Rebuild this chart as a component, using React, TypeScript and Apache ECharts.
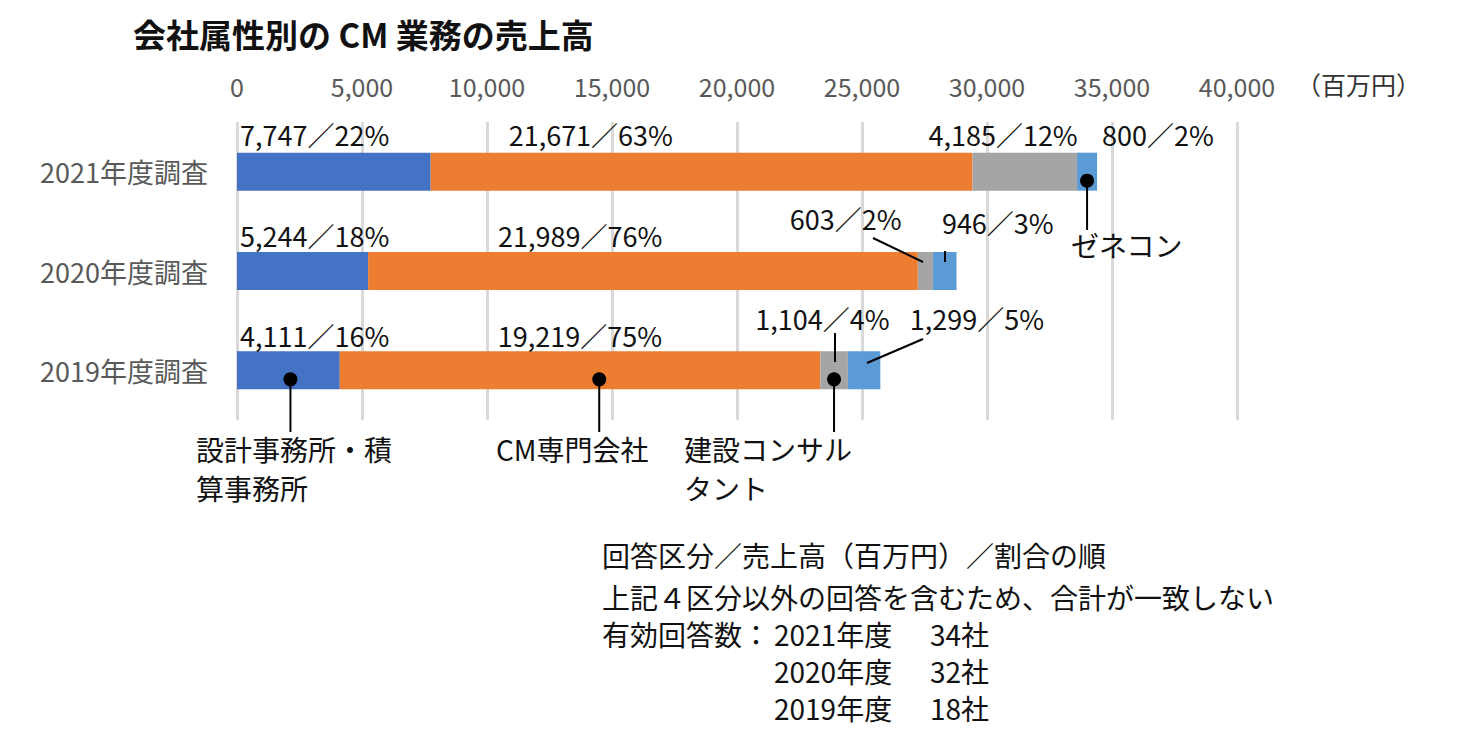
import React, { useEffect, useRef } from 'react';
import * as echarts from 'echarts';

// ---- data ----
const categories = ['2021年度調査', '2020年度調査', '2019年度調査'];
const seriesNames = ['設計事務所・積算事務所', 'CM専門会社', '建設コンサルタント', 'ゼネコン'];
const designOffice = [7747, 5244, 4111];
const cmFirm = [21671, 21989, 19219];
const consultant = [4185, 603, 1104];
const generalContractor = [800, 946, 1299];
const designShare = [22, 18, 16];
const cmShare = [63, 76, 75];
const consultantShare = [12, 2, 4];
const contractorShare = [2, 3, 5];
const axisMax = 40000;
const axisStep = 5000;
const unitLabel = '（百万円）';
const titleText = '会社属性別の CM 業務の売上高';
const noteLines = ['回答区分／売上高（百万円）／割合の順', '上記４区分以外の回答を含むため、合計が一致しない'];
const respondentYears = ['2021年度', '2020年度', '2019年度'];
const respondentCounts = ['34社', '32社', '18社'];

// ---- styles ----
const FONT = '"Noto Sans CJK JP", "Noto Sans", sans-serif';
const colors = ['#4472C4', '#ED7D31', '#A5A5A5', '#5B9BD5'];
// label offsets [dx, dy] relative to each bar segment's top-left corner
const labelOffsets = [
  [[3, -18], [3, -17], [3, -16]],
  [[78, -18], [130, -17], [158, -16]],
  [[-44, -18], [-128, -34], [-65, -33]],
  [[25, -18], [9, -30], [62, -33]],
];
// callout dot position within a segment (fraction of its length)
const calloutFractions = [0.52, 0.54, 0.5, 0.5];

const fmt = (v: number) => v.toLocaleString('en-US');

export default function App() {
  const ref = useRef<HTMLDivElement>(null);
  useEffect(() => {
    if (!ref.current) return;
    const chart = echarts.init(ref.current, null, { renderer: 'svg' });
    const values = [designOffice, cmFirm, consultant, generalContractor];
    const shares = [designShare, cmShare, consultantShare, contractorShare];
    const series = values.map((arr, si) => ({
      name: seriesNames[si],
      type: 'bar',
      stack: 'total',
      barWidth: 38,
      itemStyle: { color: colors[si] },
      data: arr.map((v, ci) => ({
        value: v,
        label: {
          show: true,
          position: labelOffsets[si][ci],
          align: 'left',
          verticalAlign: 'middle',
          formatter: `${fmt(v)}／${shares[si][ci]}%`,
          fontFamily: FONT,
          fontSize: 27,
          color: '#111',
        },
      })),
    }));
    chart.setOption({
      animation: false,
      title: {
        text: titleText,
        left: 128,
        top: 12,
        textStyle: { fontFamily: FONT, fontSize: 33, fontWeight: 'bold', color: '#111' },
      },
      grid: { left: 237, right: 232, top: 122, bottom: 318, containLabel: false },
      xAxis: {
        type: 'value',
        position: 'top',
        min: 0,
        max: axisMax,
        interval: axisStep,
        axisLine: { show: false },
        axisTick: { show: false },
        axisLabel: {
          formatter: (v: number) => fmt(v),
          fontFamily: FONT,
          fontSize: 25,
          color: '#595959',
          margin: 24,
        },
        splitLine: { show: true, lineStyle: { color: '#d9d9d9', width: 3 } },
      },
      yAxis: {
        type: 'category',
        inverse: true,
        data: categories,
        axisLine: { show: false },
        axisTick: { show: false },
        axisLabel: { fontFamily: FONT, fontSize: 27, color: '#595959', margin: 29 },
      },
      series,
    });

    const px = (v: number, ci: number) => chart.convertToPixel({ gridIndex: 0 }, [v, ci]) as number[];
    const anchor = (si: number, ci: number) => {
      let s = 0;
      for (let k = 0; k < si; k++) s += values[k][ci];
      return s + values[si][ci] * calloutFractions[si];
    };
    const dot = (si: number, ci: number, yEnd: number) => {
      const p = px(anchor(si, ci), ci);
      const cy = p[1] + 9;
      return [
        { type: 'line', z: 100, shape: { x1: p[0], y1: cy, x2: p[0], y2: yEnd }, style: { stroke: '#000', lineWidth: 2 } },
        { type: 'circle', z: 101, shape: { cx: p[0], cy, r: 7 }, style: { fill: '#000' } },
      ];
    };
    const t = (text: string, x: number, y: number, size = 28, color = '#111') => ({
      type: 'text',
      z: 100,
      x,
      y,
      style: { text, fontFamily: FONT, fontSize: size, fill: color, verticalAlign: 'middle', align: 'left' },
    });
    const ln = (x1: number, y1: number, x2: number, y2: number) => ({
      type: 'line',
      z: 100,
      shape: { x1, y1, x2, y2 },
      style: { stroke: '#000', lineWidth: 2 },
    });
    const graphics: any[] = [
      ...dot(0, 2, 432),
      ...dot(1, 2, 432),
      ...dot(2, 2, 432),
      ...dot(3, 0, 230),
      ln(873, 238, 923, 262),
      ln(945, 251, 945, 262),
      ln(835, 333, 835, 362),
      ln(923, 339, 867, 363),
      t(unitLabel, 1296, 84, 25, '#333'),
      t('設計事務所・積', 196, 449),
      t('算事務所', 196, 488),
      t('CM専門会社', 496, 449),
      t('建設コンサル', 684, 449),
      t('タント', 684, 488),
      t('ゼネコン', 1071, 245),
      t(noteLines[0], 602, 555),
      t(noteLines[1], 602, 597),
      t('有効回答数：', 602, 634),
    ];
    respondentYears.forEach((y, i) => {
      graphics.push(t(y, 774, 634 + i * 37));
      graphics.push(t(respondentCounts[i], 930, 634 + i * 37));
    });
    chart.setOption({ graphic: graphics });
    return () => chart.dispose();
  }, []);
  return <div ref={ref} style={{ position: 'fixed', left: 0, top: 0, width: 1469, height: 738, background: '#fff' }} />;
}
